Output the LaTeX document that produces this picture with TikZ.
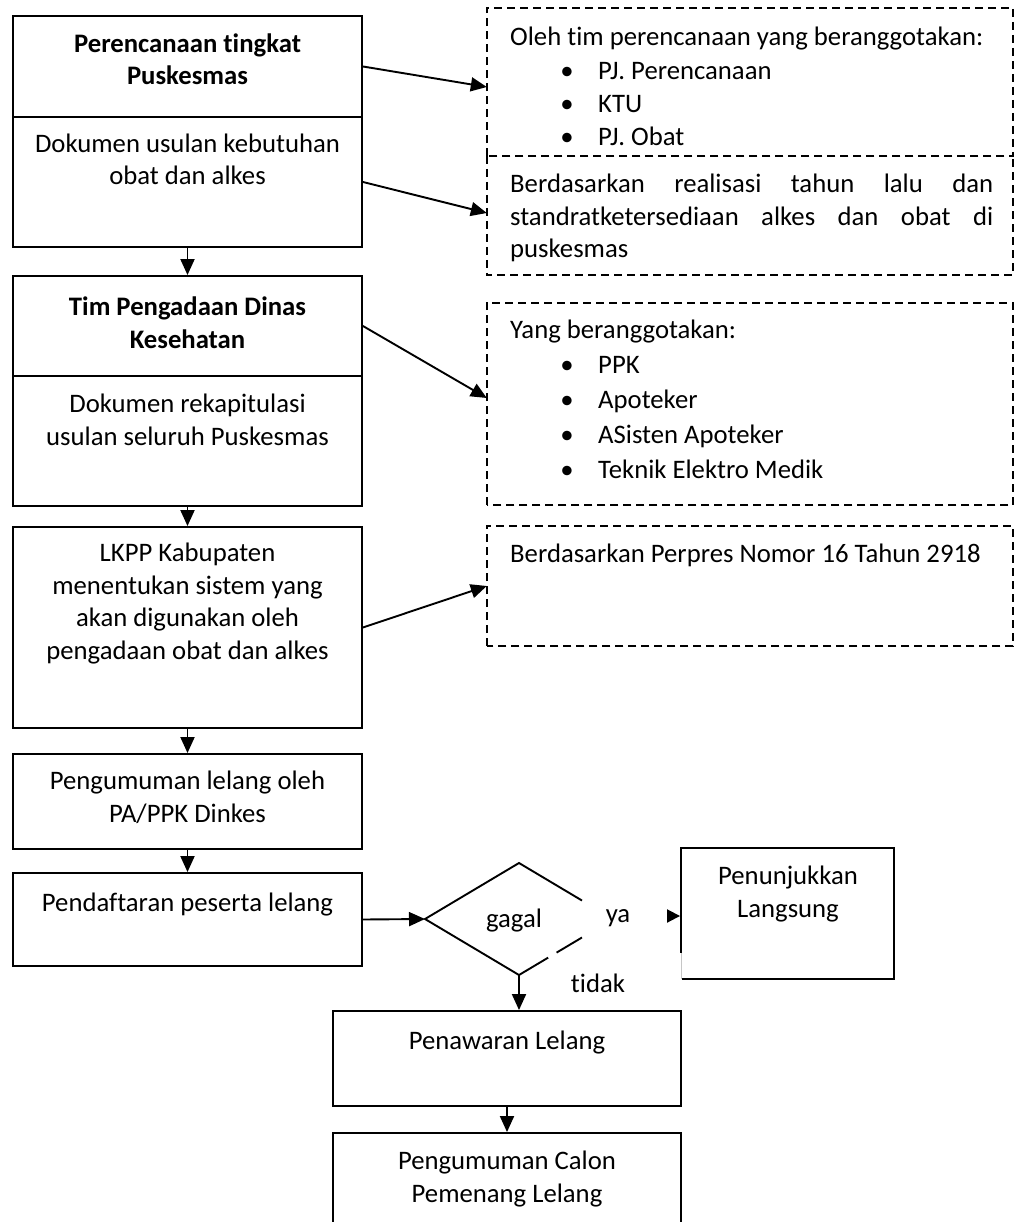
\documentclass[tikz,border=0pt]{standalone}
\usepackage{fontspec}
\setmainfont{Carlito}[Ligatures={NoCommon,NoRequired,NoContextual},Contextuals=NoAlternate]
\usetikzlibrary{arrows.meta,shapes.geometric,calc}
\newcommand\myfs{\fontsize{26.7}{32.5}\selectfont}
\newcommand\nl{\kern0pt\relax}
\begin{document}
\begin{tikzpicture}[x=1pt,y=-1pt,
 box/.style={draw, line width=1.9pt, inner sep=0pt, minimum width=349pt},
 dline/.style={line width=1.7pt, dash pattern=on 8pt off 5pt},
 dbox/.style={inner sep=0pt, minimum width=526pt, minimum height=#1},
 txt/.style={font=\myfs, inner sep=0pt, align=center, anchor=base},
 btxt/.style={font=\myfs\bfseries, inner sep=0pt, align=center, anchor=base},
 ltxt/.style={font=\myfs, inner sep=0pt, align=left, anchor=base west},
 arr/.style={line width=1.9pt, -{Triangle[length=16pt,width=14pt]}},
]
\useasboundingbox (0,0) rectangle (1021,1222);
\clip (0,0) rectangle (1021,1222);

% left column boxes
\node[box, minimum height=101pt] (b1top) at (187.5,66.5) {};
\node[box, minimum height=130pt] (b1bot) at (187.5,182) {};
\node[box, minimum height=100pt] (b2top) at (187.5,326) {};
\node[box, minimum height=130pt] (b2bot) at (187.5,441) {};
\node[box, minimum height=201pt] (b3) at (187.5,627.5) {};
\node[box, minimum height=95pt] (b4) at (187.5,801.5) {};
\node[box, minimum height=93pt] (b5) at (187.5,919.5) {};

% multi-line texts are placed by the baseline of their last line
\node[btxt] (t1) at (187.5,85) {Perencanaan t\nl ingkat\\Puskesmas};
\node[txt] (t2) at (187.5,185) {Dokumen usulan kebutuhan\\obat dan alkes};
\node[btxt] (t3) at (187.5,348) {Tim Pengadaan Dinas\\Kesehatan};
\node[txt] (t4) at (187.5,445) {Dokumen rekapitulasi\\usulan seluruh Puskesmas};
\node[txt] (t5) at (187.5,659) {LKPP Kabupaten\\menentukan sistem yang\\akan digunakan oleh\\pengadaan obat dan alkes};
\node[txt] (t6) at (187.5,822) {Pengumuman lelang oleh\\PA/PPK Dinkes};
\node[txt] (t7) at (187.5,911) {Pendaf\nl taran peserta lelang};

% dashed boxes
\node[dbox=148pt] (dA) at (750,82) {};
\node[dbox=119pt] (dB) at (750,215.5) {};
\node[dbox=202pt] (dC) at (750,404) {};
\node[dbox=120pt] (dD) at (750,586) {};
\draw[dline] (dA.south west) rectangle (dA.north east);
\draw[dline] (dB.north west) -- (dB.south west) -- (dB.south east) -- (dB.north east);
\draw[dline] (dC.south west) rectangle (dC.north east);
\draw[dline] (dD.south west) rectangle (dD.north east);

\node[ltxt] (ta0) at (510,46) {Oleh t\nl im perencanaan yang beranggotakan:};
\node[txt] (ba1) at (567,80) {\textbullet};
\node[txt] (ba2) at (567,113) {\textbullet};
\node[txt] (ba3) at (567,146) {\textbullet};
\node[ltxt] (ia1) at (598,80) {PJ. Perencanaan};
\node[ltxt] (ia2) at (598,113) {KTU};
\node[ltxt] (ia3) at (598,146) {PJ. Obat};

\node[ltxt] (tb) at (510,258) {\makebox[483pt][s]{Berdasarkan realisasi tahun lalu dan}\\\makebox[483pt][s]{standratketersediaan alkes dan obat di}\\puskesmas};

\node[ltxt] (tc0) at (510,338) {Yang beranggotakan:};
\node[txt] (bc1) at (567,373) {\textbullet};
\node[txt] (bc2) at (567,408) {\textbullet};
\node[txt] (bc3) at (567,443) {\textbullet};
\node[txt] (bc4) at (567,478) {\textbullet};
\node[ltxt] (ic1) at (598,373) {PPK};
\node[ltxt] (ic2) at (598,408) {Apoteker};
\node[ltxt] (ic3) at (598,443) {ASisten Apoteker};
\node[ltxt] (ic4) at (598,478) {Teknik Elektro Medik};

\node[ltxt] (td) at (510,562) {Berdasarkan Perpres Nomor 16 Tahun 2918};

% arrows left column
\draw[arr] (b1bot.south) -- (b2top.north);
\draw[arr] (b2bot.south) -- (b3.north);
\draw[arr] (b3.south) -- (b4.north);
\draw[arr] (b4.south) -- (b5.north);

% arrows to dashed boxes
\draw[arr] (b1top.east) -- ([yshift=-5pt]dA.west);
\draw[arr] (b1bot.east) -- ([yshift=2.5pt]dB.west);
\draw[arr] (b2top.east) -- ([yshift=6pt]dC.west);
\draw[arr] (b3.east) -- (dD.west);

% decision
\node[diamond, minimum width=188pt, minimum height=112pt, inner sep=0pt, outer sep=0pt] (dia) at (519,919) {};
\draw[line width=1.9pt] ($(dia.north)!0.67!(dia.east)$) -- (dia.north) -- (dia.west) -- (dia.south) -- ($(dia.south)!0.31!(dia.east)$);
\draw[line width=1.9pt] ($(dia.south)!0.40!(dia.east)$) -- ($(dia.south)!0.67!(dia.east)$);
\node[txt] (gagal) at (514,927) {gagal};
\node[txt] (ya) at (618,922) {ya};
\node[txt] (tidak) at (598,992) {t\nl idak};

\draw[arr] (b5.east) -- (dia.west);

% Penunjukkan Langsung
\node[draw, line width=1.9pt, inner sep=0pt, minimum width=213pt, minimum height=131pt] (pl) at (787.5,913.5) {};
\draw[white, line width=2.5pt] (681,953) -- (681,980);
\draw[gray!45, line width=1pt] (681.5,953) -- (681.5,979);
\node[txt] (tpl) at (788,917) {Penunjukkan\\Langsung};
\coordinate (yaend) at (667,916);
\draw[line width=1.9pt, -{Triangle[length=13pt,width=13pt]}] (yaend) -- (pl.west |- yaend);

% Penawaran and Pengumuman Calon
\node[box, minimum width=348pt, minimum height=95pt] (pw) at (507,1058.5) {};
\node[txt] (tpw) at (507,1049) {Penawaran Lelang};
\node[box, minimum width=348pt, minimum height=107pt] (pc) at (507,1186.5) {};
\node[txt] (tpc) at (507,1202) {Pengumuman Calon\\Pemenang Lelang};

\draw[arr] (dia.south) -- (dia.south |- pw.north);
\draw[arr] (pw.south) -- (pc.north);
\end{tikzpicture}
\end{document}
